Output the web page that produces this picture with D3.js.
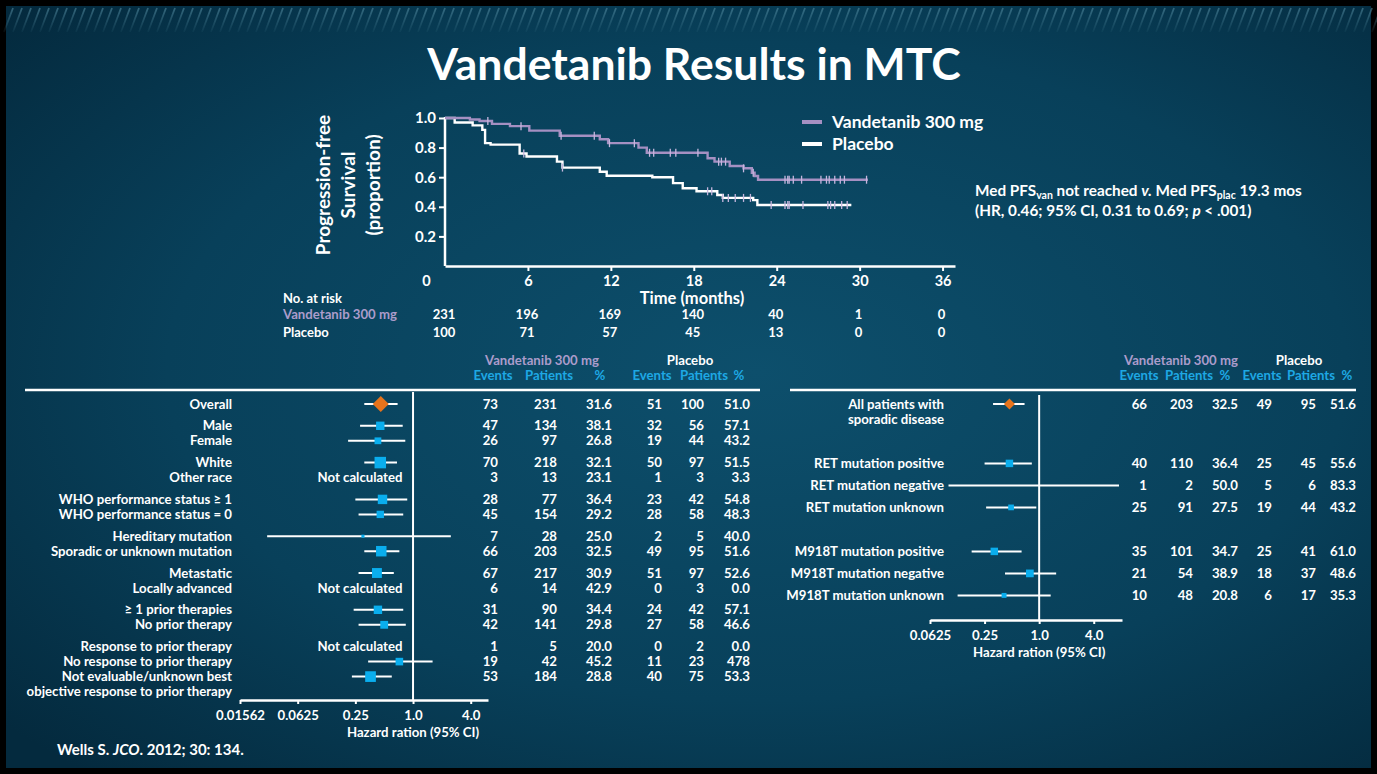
<!DOCTYPE html>
<html><head><meta charset="utf-8">
<script src="https://cdn.jsdelivr.net/npm/d3@7"></script>
<style>
body{margin:0;background:#000}
svg{display:block}
text{font-family:Lato,'Open Sans',sans-serif;font-weight:700;fill:#fff}
</style>
</head><body>
<svg id="c" width="1377" height="774"></svg>
<script>
// ---------------- DATA ----------------
const title = "Vandetanib Results in MTC";

// Kaplan-Meier
const kmMonths = [0, 6, 12, 18, 24, 30, 36];
const kmProps = [0.2, 0.4, 0.6, 0.8, 1.0];
const vanSteps = [[0,1.0],[1.8,0.99],[2.5,0.98],[3.4,0.96],[4.7,0.945],[6.1,0.915],[8.3,0.88],[11.2,0.856],[11.8,0.83],[14.0,0.80],[14.6,0.765],[19.0,0.728],[19.5,0.705],[20.6,0.676],[21.6,0.66],[22.2,0.63],[22.4,0.608],[22.65,0.583]];
const vanEnd = 30.6;
const plaSteps = [[0,1.0],[0.7,0.97],[2.0,0.95],[2.7,0.92],[2.9,0.83],[3.3,0.82],[5.4,0.76],[5.9,0.74],[8.1,0.705],[8.5,0.665],[11.2,0.637],[11.7,0.61],[15.0,0.60],[16.5,0.56],[17.2,0.525],[18.2,0.505],[19.7,0.48],[20.1,0.46],[22.3,0.445],[22.6,0.412]];
const plaEnd = 29.4;
const vanCensor = [3.1,5.5,8.4,10.8,11.9,13.7,14.8,15.1,16.3,16.7,18.3,19.8,20.0,20.3,21.6,22.3,24.6,24.8,24.9,25.2,25.8,27.2,27.6,27.8,28.2,28.6,28.9,30.5];
const plaCensor = [5.7,8.5,19.0,19.3,20.1,20.5,21.0,21.6,22.1,23.6,24.6,24.8,24.9,25.9,27.7,27.9,28.2,28.7,29.1];
const seriesNames = ["Vandetanib 300 mg", "Placebo"];
const atRiskVan = [231,196,169,140,40,1,0];
const atRiskPla = [100,71,57,45,13,0,0];

// Left forest plot
const leftLabels = ["Overall","Male","Female","White","Other race","WHO performance status \u2265 1","WHO performance status = 0","Hereditary mutation","Sporadic or unknown mutation","Metastatic","Locally advanced","\u2265 1 prior therapies","No prior therapy","Response to prior therapy","No response to prior therapy","Not evaluable/unknown best"];
const leftLabelExtra = "objective response to prior therapy";
const leftGroup = [0,1,1,2,2,3,3,4,4,5,5,6,6,7,7,7];
const leftHR = [0.46,0.455,0.43,0.455,null,0.48,0.455,0.30,0.466,0.42,null,0.43,0.50,null,0.72,0.36];
const leftLo = [0.31,0.28,0.21,0.31,null,0.25,0.27,0.03,0.31,0.27,null,0.24,0.27,null,0.34,0.23];
const leftHi = [0.69,0.78,0.83,0.68,null,0.87,0.79,2.48,0.72,0.63,null,0.79,0.84,null,1.6,0.60];
const leftWeight = [1.0,0.73,0.59,1.0,0,0.82,0.64,0.27,0.91,0.86,0,0.73,0.68,0,0.66,0.93];
const vanEvents = [73,47,26,70,3,28,45,7,66,67,6,31,42,1,19,53];
const vanPatients = [231,134,97,218,13,77,154,28,203,217,14,90,141,5,42,184];
const vanPct = ["31.6","38.1","26.8","32.1","23.1","36.4","29.2","25.0","32.5","30.9","42.9","34.4","29.8","20.0","45.2","28.8"];
const plaEvents = [51,32,19,50,1,23,28,2,49,51,0,24,27,0,11,40];
const plaPatients = [100,56,44,97,3,42,58,5,95,97,3,42,58,2,23,75];
const plaPct = ["51.0","57.1","43.2","51.5","3.3","54.8","48.3","40.0","51.6","52.6","0.0","57.1","46.6","0.0","478","53.3"];
const leftTicks = [0.015625, 0.0625, 0.25, 1, 4];
const leftTickLabels = ["0.01562","0.0625","0.25","1.0","4.0"];

// Right forest plot
const rightLabels = [["All patients with","sporadic disease"],["RET mutation positive"],["RET mutation negative"],["RET mutation unknown"],["M918T mutation positive"],["M918T mutation negative"],["M918T mutation unknown"]];
const rightGroup = [0,1,1,1,2,2,2];
const rightHR = [0.47,0.47,null,0.49,0.32,0.79,0.41];
const rightLo = [0.31,0.25,0.10,0.26,0.18,0.42,0.126];
const rightHi = [0.69,0.83,7.6,0.93,0.64,1.54,1.34];
const rightWeight = [1.0,0.68,0,0.52,0.68,0.7,0.45];
const rVanEvents = [66,40,1,25,35,21,10];
const rVanPatients = [203,110,2,91,101,54,48];
const rVanPct = ["32.5","36.4","50.0","27.5","34.7","38.9","20.8"];
const rPlaEvents = [49,25,5,19,25,18,6];
const rPlaPatients = [95,45,6,44,41,37,17];
const rPlaPct = ["51.6","55.6","83.3","43.2","61.0","48.6","35.3"];
const rightTicks = [0.0625, 0.25, 1, 4];
const rightTickLabels = ["0.0625","0.25","1.0","4.0"];

const colHeaders = ["Events","Patients","%","Events","Patients","%"];
const axisTitle = "Hazard ration (95% CI)";

// ---------------- STYLE ----------------
const W = 1377, H = 774;
const PURPLE = "#a590c2", PURPLE_T = "#ab9ccb", CENS = "#c6b6de", BLUE = "#1ea8e4", SQ = "#0aaeee", ORANGE = "#e6731c";
const FS = 13.2; // forest text size
const svg = d3.select("#c");
const defs = svg.append("defs");
const rg = defs.append("radialGradient").attr("id","bg").attr("cx","55%").attr("cy","48%").attr("r","72%");
rg.append("stop").attr("offset","0%").attr("stop-color","#0d4f6c");
rg.append("stop").attr("offset","60%").attr("stop-color","#08405a");
rg.append("stop").attr("offset","100%").attr("stop-color","#042a3e");
const mg = defs.append("linearGradient").attr("id","fade").attr("gradientUnits","userSpaceOnUse").attr("x1",0).attr("y1",6).attr("x2",0).attr("y2",34);
mg.append("stop").attr("offset","0%").attr("stop-color","#fff").attr("stop-opacity",1);
mg.append("stop").attr("offset","100%").attr("stop-color","#fff").attr("stop-opacity",0.05);
defs.append("mask").attr("id","m").append("rect").attr("x",0).attr("y",0).attr("width",W).attr("height",40).attr("fill","url(#fade)");

svg.append("rect").attr("width",W).attr("height",H).attr("fill","#000");
svg.append("rect").attr("x",6).attr("y",6).attr("width",W-12).attr("height",H-12).attr("fill","url(#bg)");
const stripes = svg.append("g").attr("mask","url(#m)");
stripes.selectAll("line").data(d3.range(0,155)).join("line")
  .attr("x1",d=>4+d*9).attr("y1",32).attr("x2",d=>13+d*9).attr("y2",8)
  .attr("stroke","#5a93a8").attr("stroke-width",1.8).attr("opacity",0.6);

svg.append("text").attr("x",694).attr("y",80).attr("text-anchor","middle").attr("font-size",44.5).text(title);

// ---------------- KM ----------------
const xK = d3.scaleLinear().domain([0,36.9]).range([445,955]);
const yK = d3.scaleLinear().domain([0,1]).range([266,118]);
const km = svg.append("g");
const xAx = km.append("g").attr("transform","translate(0,266)")
  .call(d3.axisBottom(xK).tickValues(kmMonths).tickSize(5).tickSizeOuter(0).tickPadding(5));
xAx.select(".domain").attr("stroke","#fff").attr("stroke-width",2.5);
xAx.selectAll(".tick line").attr("stroke","#fff").attr("stroke-width",2).attr("opacity",d=>d===0?0:1);
xAx.selectAll(".tick text").attr("fill","#fff").attr("font-size",14.5).attr("font-family","Lato,sans-serif").attr("font-weight",700)
  .attr("dx",d=>d===0?-19:0);
const yAx = km.append("g").attr("transform","translate(445,0)")
  .call(d3.axisLeft(yK).tickValues(kmProps).tickSize(6).tickSizeOuter(0).tickPadding(3).tickFormat(d3.format(".1f")));
yAx.select(".domain").attr("stroke","#fff").attr("stroke-width",2.5).attr("d","M0,117V266");
yAx.selectAll(".tick line").attr("stroke","#fff").attr("stroke-width",2);
yAx.selectAll(".tick text").attr("fill","#fff").attr("font-size",15).attr("font-family","Lato,sans-serif").attr("font-weight",700);

const yTitle = ["Progression-free","Survival","(proportion)"];
yTitle.forEach((s,i)=>{
  svg.append("text").attr("transform",`translate(${323+i*25},185) rotate(-90)`).attr("text-anchor","middle")
    .attr("dy","0.35em").attr("font-size",19).text(s);
});

function S(steps,t){let v=1;for(const [tt,p] of steps) if(tt<=t) v=p; return v;}
const line = d3.line().x(d=>xK(d[0])).y(d=>yK(d[1])).curve(d3.curveStepAfter);
const plaPts = plaSteps.concat([[plaEnd, plaSteps[plaSteps.length-1][1]]]);
const vanPts = vanSteps.concat([[vanEnd, vanSteps[vanSteps.length-1][1]]]);
km.append("path").attr("d",line(plaPts)).attr("fill","none").attr("stroke","#fff").attr("stroke-width",2.4);
km.append("path").attr("d",line(vanPts)).attr("fill","none").attr("stroke",PURPLE).attr("stroke-width",2.4);
km.selectAll(".cp").data(plaCensor).join("line").attr("class","cp")
  .attr("x1",d=>xK(d)).attr("x2",d=>xK(d)).attr("y1",d=>yK(S(plaSteps,d))-4).attr("y2",d=>yK(S(plaSteps,d))+4)
  .attr("stroke",CENS).attr("stroke-width",1.3);
km.selectAll(".cv").data(vanCensor).join("line").attr("class","cv")
  .attr("x1",d=>xK(d)).attr("x2",d=>xK(d)).attr("y1",d=>yK(S(vanSteps,d))-4).attr("y2",d=>yK(S(vanSteps,d))+4)
  .attr("stroke",CENS).attr("stroke-width",1.3);

// legend
[[PURPLE,seriesNames[0]],["#fff",seriesNames[1]]].forEach((d,i)=>{
  const y = 122 + i*22;
  svg.append("line").attr("x1",802).attr("x2",822).attr("y1",y).attr("y2",y).attr("stroke",d[0]).attr("stroke-width",4);
  svg.append("text").attr("x",832).attr("y",y).attr("dy","0.35em").attr("font-size",17.5).text(d[1]);
});
svg.append("text").attr("x",692).attr("y",298).attr("dy","0.35em").attr("text-anchor","middle").attr("font-size",16.5).text("Time (months)");

// at risk
svg.append("text").attr("x",283).attr("y",298).attr("dy","0.35em").attr("font-size",13).text("No. at risk");
svg.append("text").attr("x",283).attr("y",314).attr("dy","0.35em").attr("font-size",13.2).attr("font-weight",400).style("fill",PURPLE_T).text(seriesNames[0]);
svg.append("text").attr("x",283).attr("y",332).attr("dy","0.35em").attr("font-size",13).text(seriesNames[1]);
kmMonths.forEach((m,i)=>{
  svg.append("text").attr("x",xK(m)-1).attr("y",314).attr("dy","0.35em").attr("text-anchor","middle").attr("font-size",13).text(atRiskVan[i]);
  svg.append("text").attr("x",xK(m)-1).attr("y",332).attr("dy","0.35em").attr("text-anchor","middle").attr("font-size",13).text(atRiskPla[i]);
});

// med PFS text
const t1 = svg.append("text").attr("x",975).attr("y",196).attr("font-size",15.3);
t1.append("tspan").text("Med PFS");
t1.append("tspan").attr("dy",3).attr("font-size",10.5).text("van");
t1.append("tspan").attr("dy",-3).text(" not reached ");
t1.append("tspan").attr("font-style","italic").text("v.");
t1.append("tspan").text(" Med PFS");
t1.append("tspan").attr("dy",3).attr("font-size",10.5).text("plac");
t1.append("tspan").attr("dy",-3).text(" 19.3 mos");
const t2 = svg.append("text").attr("x",975).attr("y",216).attr("font-size",15.3);
t2.append("tspan").text("(HR, 0.46; 95% CI, 0.31 to 0.69; ");
t2.append("tspan").attr("font-style","italic").text("p");
t2.append("tspan").text(" < .001)");

// ---------------- FOREST ----------------
function forest(opt){
  const g = svg.append("g");
  const x = opt.x;
  g.append("line").attr("x1",opt.lineX[0]).attr("x2",opt.lineX[1]).attr("y1",390).attr("y2",390).attr("stroke","#fff").attr("stroke-width",2.5);
  g.append("text").attr("x",opt.grpX[0]).attr("y",360).attr("dy","0.35em").attr("text-anchor","middle").attr("font-size",FS).attr("font-weight",400).style("fill",PURPLE_T).text(seriesNames[0]);
  g.append("text").attr("x",opt.grpX[1]).attr("y",360).attr("dy","0.35em").attr("text-anchor","middle").attr("font-size",FS).text(seriesNames[1]);
  colHeaders.forEach((h,i)=>g.append("text").attr("x",opt.hdrX[i]).attr("y",375).attr("dy","0.35em").attr("text-anchor","middle").attr("font-size",FS).style("fill",BLUE).text(h));
  g.append("line").attr("x1",x(1)).attr("x2",x(1)).attr("y1",opt.refY[0]).attr("y2",opt.axisY).attr("stroke","#fff").attr("stroke-width",2);
  const ax = g.append("g").attr("transform",`translate(0,${opt.axisY})`)
    .call(d3.axisBottom(x).tickValues(opt.ticks).tickFormat((d,i)=>opt.tickLabels[i]).tickSize(4).tickSizeOuter(0).tickPadding(7));
  ax.select(".domain").attr("stroke","#fff").attr("stroke-width",2.5);
  ax.selectAll(".tick line").attr("stroke","#fff").attr("stroke-width",2);
  ax.selectAll(".tick text").attr("fill","#fff").attr("font-size",FS).attr("font-family","Lato,sans-serif").attr("font-weight",700);
  g.append("text").attr("x",x(1)).attr("y",opt.axisY+32).attr("dy","0.35em").attr("text-anchor","middle").attr("font-size",FS).text(axisTitle);
  const sz = d3.scaleLinear().domain([0,1]).range([0,opt.maxBox]);
  opt.labels.forEach((lab,i)=>{
    const y = opt.ys[i];
    const lines = Array.isArray(lab)?lab:[lab];
    lines.forEach((s,k)=>g.append("text").attr("x",opt.labelX).attr("y",y+k*15).attr("dy","0.35em").attr("text-anchor","end").attr("font-size",FS).text(s));
    if(opt.lo[i]!=null){
      g.append("line").attr("x1",x(opt.lo[i])).attr("x2",x(opt.hi[i])).attr("y1",y).attr("y2",y).attr("stroke","#fff").attr("stroke-width",2);
    }
    if(opt.hr[i]!=null){
      if(i===0){
        const cx = x(opt.hr[i]), r = opt.diamond;
        g.append("path").attr("d",`M${cx},${y-r}L${cx+r},${y}L${cx},${y+r}L${cx-r},${y}Z`).attr("fill",ORANGE);
      } else {
        const s = sz(opt.w[i]);
        g.append("rect").attr("x",x(opt.hr[i])-s/2).attr("y",y-s/2).attr("width",s).attr("height",s).attr("fill",SQ);
      }
    } else if(opt.lo[i]==null){
      g.append("text").attr("x",opt.ncX).attr("y",y).attr("dy","0.35em").attr("text-anchor","middle").attr("font-size",FS).text("Not calculated");
    }
    const vals = [opt.ve[i],opt.vp[i],opt.vpc[i],opt.pe[i],opt.pp[i],opt.ppc[i]];
    vals.forEach((v,k)=>g.append("text").attr("x",opt.colX[k]).attr("y",y).attr("dy","0.35em").attr("text-anchor","end").attr("font-size",FS).text(v));
  });
  return g;
}

const xL = d3.scaleLog().base(2).domain([1/64, 6.06]).range([240, 488]);
const leftY = leftLabels.map((d,i)=>404 + 15*i + 6.8*leftGroup[i]);
const gl = forest({x:xL, lineX:[25,760], grpX:[542,690], hdrX:[493,549,600,652,704,739], refY:[392], axisY:700,
  ticks:leftTicks, tickLabels:leftTickLabels, labels:leftLabels, ys:leftY, hr:leftHR, lo:leftLo, hi:leftHi, w:leftWeight,
  maxBox:11.5, diamond:8, labelX:232, ncX:360, colX:[498,557,612,662,704,750],
  ve:vanEvents, vp:vanPatients, vpc:vanPct, pe:plaEvents, pp:plaPatients, ppc:plaPct});
gl.append("text").attr("x",232).attr("y",leftY[leftY.length-1]+15).attr("dy","0.35em").attr("text-anchor","end").attr("font-size",FS).text(leftLabelExtra);

const xR = d3.scaleLog().base(2).domain([1/16, 8.2]).range([930, 1122]);
const rightSlot = [0,2.7,3.7,4.7,6.7,7.7,8.7];
const rightY = rightSlot.map(s=>404 + 22*s);
forest({x:xR, lineX:[790,1356], grpX:[1181,1299], hdrX:[1139,1189,1225,1262,1311,1347], refY:[395], axisY:620,
  ticks:rightTicks, tickLabels:rightTickLabels, labels:rightLabels, ys:rightY, hr:rightHR, lo:rightLo, hi:rightHi, w:rightWeight,
  maxBox:11, diamond:5.5, labelX:944, ncX:1000, colX:[1147,1193,1238,1272,1316,1356],
  ve:rVanEvents, vp:rVanPatients, vpc:rVanPct, pe:rPlaEvents, pp:rPlaPatients, ppc:rPlaPct});

// footnote
const fn = svg.append("text").attr("x",57).attr("y",750).attr("dy","0.35em").attr("font-size",15);
fn.append("tspan").text("Wells S. ");
fn.append("tspan").attr("font-style","italic").text("JCO");
fn.append("tspan").text(". 2012; 30: 134.");
</script>
</body></html>
